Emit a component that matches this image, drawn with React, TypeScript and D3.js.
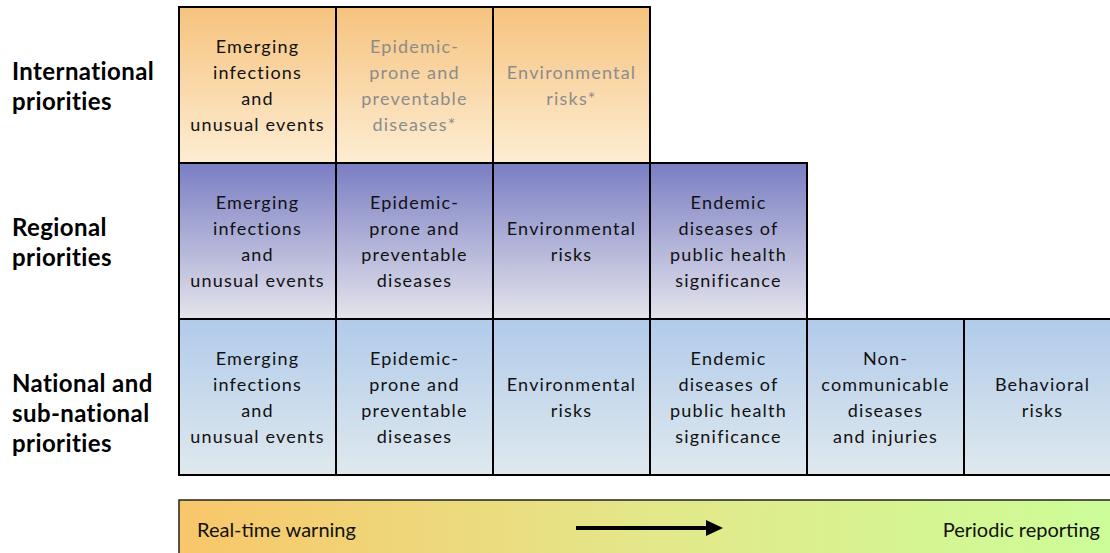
import React from "react";
import * as d3 from "d3";

const rowLabels: string[][] = [
  ["International", "priorities"],
  ["Regional", "priorities"],
  ["National and", "sub-national", "priorities"],
];

const categories: string[][] = [
  ["Emerging", "infections", "and", "unusual events"],
  ["Epidemic-", "prone and", "preventable", "diseases"],
  ["Environmental", "risks"],
  ["Endemic", "diseases of", "public health", "significance"],
  ["Non-", "communicable", "diseases", "and injuries"],
  ["Behavioral", "risks"],
];

// number of categories covered by each level
const rowCounts: number[] = [3, 4, 6];
// categories marked with asterisk (shown grey) at international level
const intlGreyed: number[] = [1, 2];

const scaleLabels: string[] = ["Real-time warning", "Periodic reporting"];

const rowGradients = [
  { id: "gIntl", top: "#F6C37E", bottom: "#FDEDD3" },
  { id: "gReg", top: "#7A7EC3", bottom: "#E4E4EC" },
  { id: "gNat", top: "#B1CBEA", bottom: "#DFE9EE" },
];

export default function App() {
  const W = 1110;
  const H = 553;
  const x = d3.scaleLinear().domain([0, 6]).range([179, 179 + 6 * 157]);
  const y = d3.scaleLinear().domain([0, 3]).range([7, 7 + 3 * 156]);
  const font = "Lato, 'Open Sans', sans-serif";
  const lh = 26;
  const labelShift = [0, 0, 15];

  return (
    <svg width={W} height={H} style={{ position: "absolute", left: 0, top: 0, display: "block" }}>
      <defs>
        {rowGradients.map((g) => (
          <linearGradient key={g.id} id={g.id} x1="0" y1="0" x2="0" y2="1">
            <stop offset="0" stopColor={g.top} />
            <stop offset="1" stopColor={g.bottom} />
          </linearGradient>
        ))}
        <linearGradient id="gBar" x1="0" y1="0" x2="1" y2="0">
          <stop offset="0" stopColor="#F9C66A" />
          <stop offset="0.5" stopColor="#E3E88A" />
          <stop offset="1" stopColor="#CBFE99" />
        </linearGradient>
      </defs>
      <rect width={W} height={H} fill="#fff" />
      {rowCounts.map((n, r) => (
        <g key={r}>
          {d3.range(n).map((c) => {
            const x0 = x(c);
            const x1 = x(c + 1);
            const y0 = y(r);
            const y1 = y(r + 1);
            const lines = categories[c].map((l, i) =>
              r === 0 && intlGreyed.includes(c) && i === categories[c].length - 1 ? l + "*" : l
            );
            const grey = r === 0 && intlGreyed.includes(c);
            const cy = (y0 + y1) / 2;
            return (
              <g key={c}>
                <rect x={x0} y={y0} width={x1 - x0} height={y1 - y0} fill={`url(#${rowGradients[r].id})`} stroke="#000" strokeWidth={2} />
                {lines.map((l, i) => (
                  <text
                    key={i}
                    x={(x0 + x1) / 2}
                    y={cy + (i - (lines.length - 1) / 2) * lh}
                    textAnchor="middle"
                    dominantBaseline="central"
                    fontFamily={font}
                    fontSize={18}
                    letterSpacing={1.2}
                    fill={grey ? "#8C8C8C" : "#111"}
                  >
                    {l}
                  </text>
                ))}
              </g>
            );
          })}
          {rowLabels[r].map((l, i) => (
            <text
              key={"l" + i}
              x={12}
              y={(y(r) + y(r + 1)) / 2 + labelShift[r] + (i - (rowLabels[r].length - 1) / 2) * 30}
              dominantBaseline="central"
              fontFamily={font}
              fontSize={24}
              letterSpacing={0.4}
              fontWeight="bold"
              fill="#000"
            >
              {l}
            </text>
          ))}
        </g>
      ))}
      <rect x={179} y={500} width={W - 179 + 20} height={70} fill="url(#gBar)" stroke="#222" strokeWidth={1.5} />
      <text x={197} y={529} dominantBaseline="central" fontFamily={font} fontSize={20} fill="#111">
        {scaleLabels[0]}
      </text>
      <text x={1100} y={529} textAnchor="end" dominantBaseline="central" fontFamily={font} fontSize={20} fill="#111">
        {scaleLabels[1]}
      </text>
      <line x1={576} y1={528} x2={708} y2={528} stroke="#000" strokeWidth={4} />
      <path d="M706,520 L723,528 L706,536 Z" fill="#000" />
    </svg>
  );
}
